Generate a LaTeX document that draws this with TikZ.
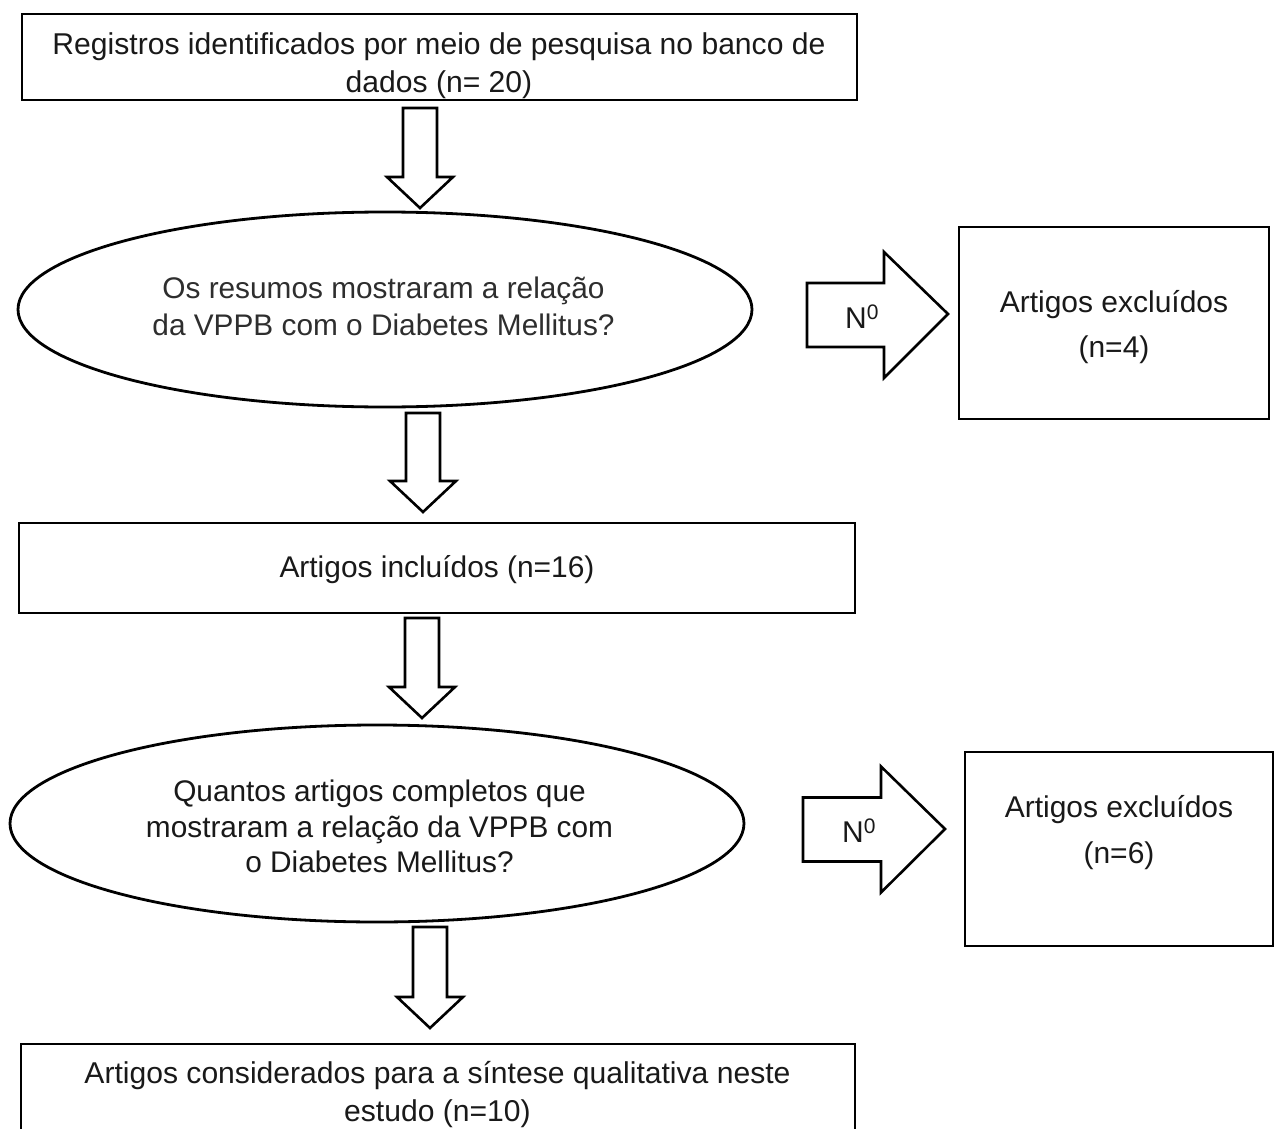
\documentclass[tikz,border=0pt]{standalone}
\usepackage{fontspec}
\setmainfont{Liberation Sans}
\usetikzlibrary{shapes.geometric,calc}
\tikzset{
  frame/.style={draw=black, line width=2.8pt, fill=white, rectangle, inner sep=0pt},
  oval/.style={draw=black, line width=2.8pt, fill=white, ellipse, inner sep=0pt},
  txt/.style={align=center, inner sep=0pt, text=black!90},
  blk/.style={draw=black, line width=2.6pt, fill=white, line join=miter},
}
\newcommand{\blockdown}[2]{%
  \draw[blk] let \p1=(#1), \p2=(#2) in
    (\x1-17pt,\y1) -- (\x1+17pt,\y1) -- (\x1+17pt,\y2+31pt) -- (\x1+33pt,\y2+31pt)
    -- (\x2,\y2) -- (\x1-33pt,\y2+31pt) -- (\x1-17pt,\y2+31pt) -- cycle;}
\newcommand{\blockright}[2]{%
  \draw[blk] let \p1=(#1), \p2=(#2) in
    (\x1,\y1+32pt) -- (\x2-64pt,\y1+32pt) -- (\x2-64pt,\y1+63pt) -- (\x2,\y2)
    -- (\x2-64pt,\y1-63pt) -- (\x2-64pt,\y1-32pt) -- (\x1,\y1-32pt) -- cycle;}
\begin{document}
\begin{tikzpicture}[x=1pt,y=1pt]
\useasboundingbox (0,0) rectangle (1275,-1129);
\fill[white] (0,0) rectangle (1275,-1129);
\clip (0,0) rectangle (1275,-1129);

% shapes
\node[frame, minimum width=835pt, minimum height=86pt] (top) at (439.5,-57) {};
\node[oval, minimum width=734pt, minimum height=195pt] (ell1) at (385,-309.5) {};
\node[frame, minimum width=310pt, minimum height=192pt] (ex1) at (1114,-323) {};
\node[frame, minimum width=836pt, minimum height=90pt] (incl) at (437,-568) {};
\node[oval, minimum width=734pt, minimum height=197pt] (ell2) at (377,-823.5) {};
\node[frame, minimum width=308pt, minimum height=194pt] (ex2) at (1119,-849) {};
\node[frame, minimum width=834pt, minimum height=100pt] (bot) at (438,-1094) {};

% texts
\node[txt, font={\fontsize{30.1}{38}\selectfont}] (topt) at (439,-66.4)
  {\strut Registros identificados por meio de pesquisa no banco de\\\strut dados (n= 20)};
\node[txt, text=black!82, font={\fontsize{29.8}{37}\selectfont}] (ell1t) at (383.5,-310)
  {\strut Os resumos mostraram a relação\\\strut da VPPB com o Diabetes Mellitus?};
\node[txt, font={\fontsize{30}{45}\selectfont}] (ex1t) at (1114,-325.5)
  {\strut Artigos excluídos\\\strut (n=4)};
\node[txt, font={\fontsize{29.9}{39}\selectfont}] (inclt) at (437,-570)
  {\strut Artigos incluídos (n=16)};
\node[txt, font={\fontsize{29.8}{35.5}\selectfont}] (ell2t) at (379.5,-830)
  {\strut Quantos artigos completos que\\\strut mostraram a relação da VPPB com\\\strut o Diabetes Mellitus?};
\node[txt, font={\fontsize{30}{46}\selectfont}] (ex2t) at (1119,-831)
  {\strut Artigos excluídos\\\strut (n=6)};
\node[txt, font={\fontsize{30.1}{37.5}\selectfont}] (bott) at (437.5,-1095)
  {\strut Artigos considerados para a síntese qualitativa neste\\\strut estudo (n=10)};

% block arrows
\coordinate (d1s) at (420,-108);  \coordinate (d1e) at (420,-208);
\coordinate (d2s) at (423,-413);  \coordinate (d2e) at (423,-512);
\coordinate (d3s) at (422,-618);  \coordinate (d3e) at (422,-718);
\coordinate (d4s) at (430,-927);  \coordinate (d4e) at (430,-1028);
\coordinate (r1s) at (807,-315);  \coordinate (r1e) at (948,-314);
\coordinate (r2s) at (803,-829.5);\coordinate (r2e) at (945,-829);
\blockdown{d1s}{d1e}
\blockdown{d2s}{d2e}
\blockdown{d3s}{d3e}
\blockdown{d4s}{d4e}
\blockright{r1s}{r1e}
\blockright{r2s}{r2e}

\node[txt, font={\fontsize{30}{36}\selectfont}] (no1) at (862,-317) {N\textsuperscript{0}};
\node[txt, font={\fontsize{30}{36}\selectfont}] (no2) at (859,-831) {N\textsuperscript{0}};
\end{tikzpicture}
\end{document}
